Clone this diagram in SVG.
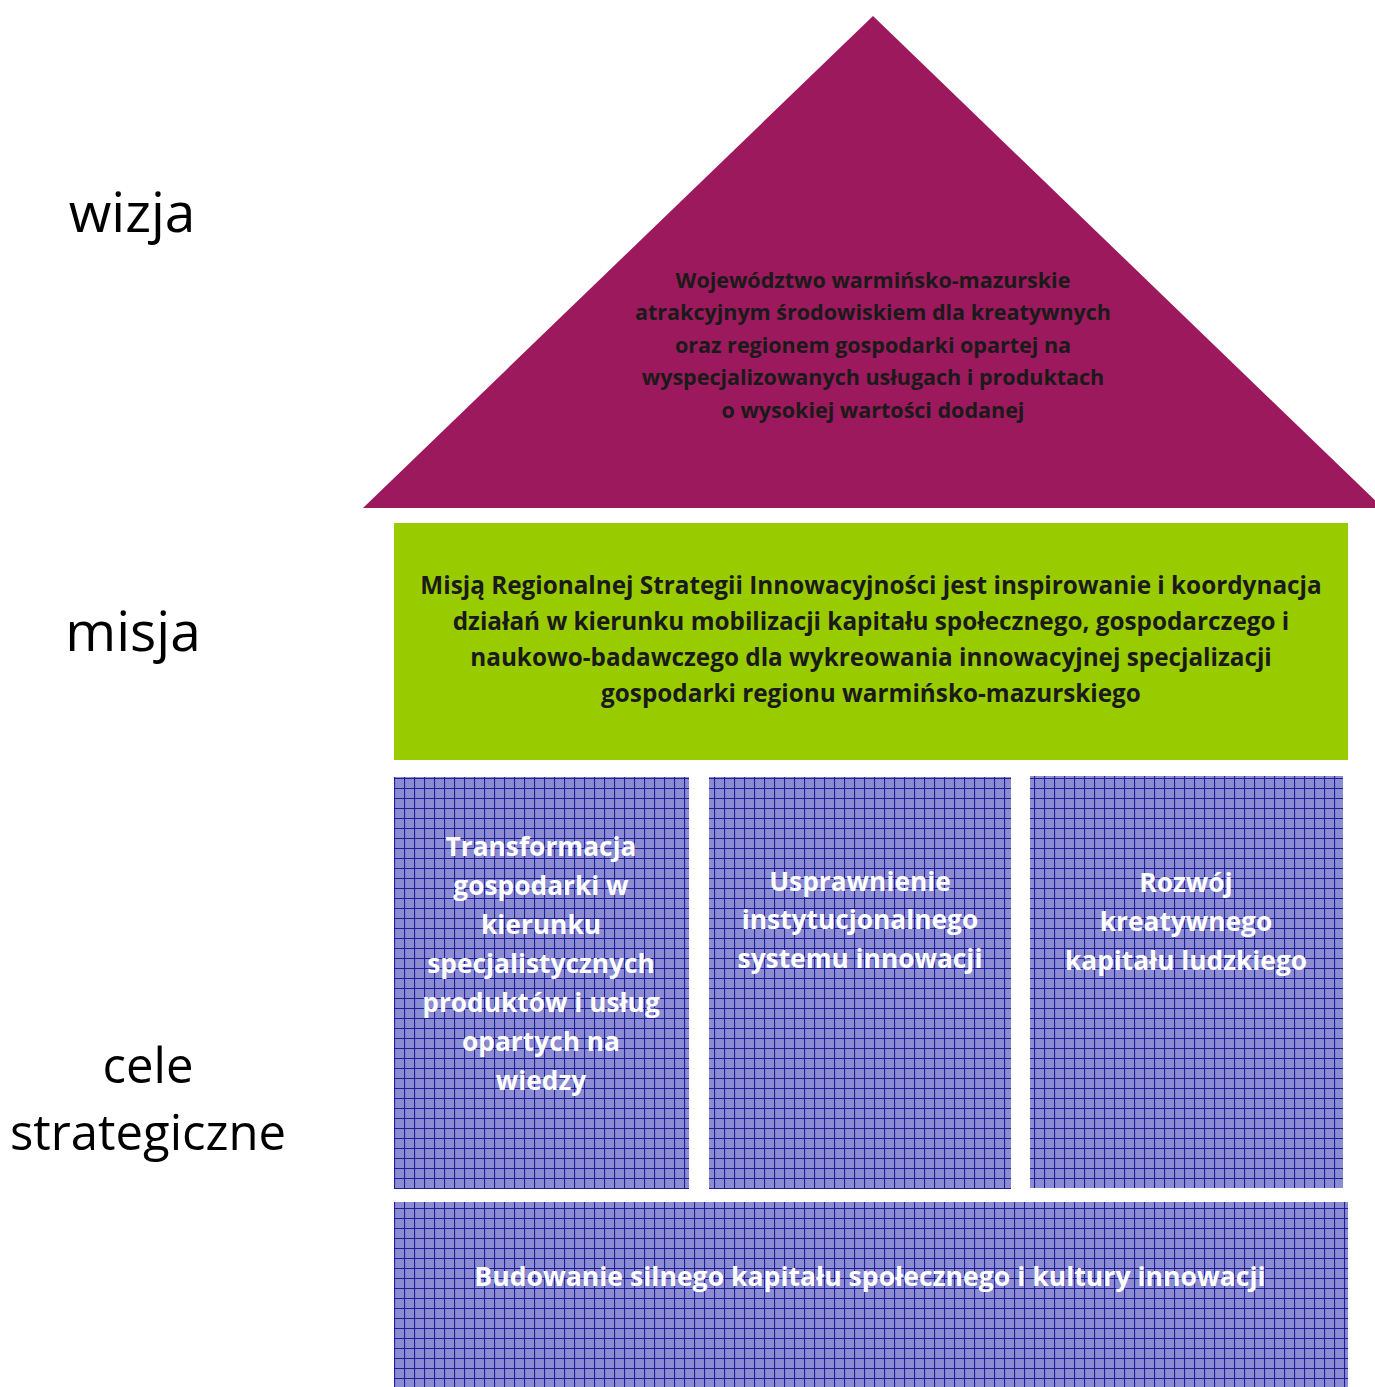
<svg xmlns="http://www.w3.org/2000/svg" width="1375" height="1387" viewBox="0 0 1375 1387">
<style>
.side{font-family:"Open Sans","Liberation Sans",sans-serif;font-size:49px;fill:#000;text-anchor:middle}
.big{font-size:55px}
.roof{font-family:"Open Sans","Liberation Sans",sans-serif;font-weight:bold;font-size:21.5px;fill:#1a1a1a;text-anchor:middle}
.mis{font-family:"Open Sans","Liberation Sans",sans-serif;font-weight:bold;font-size:24.3px;fill:#1a1a1a;text-anchor:middle}
.goal{font-family:"Open Sans","Liberation Sans",sans-serif;font-weight:bold;font-size:26.3px;fill:#fff;text-anchor:middle}
.wide{font-size:26.6px}
.box{fill:url(#grid)}
</style>
<defs>
<pattern id="grid" patternUnits="userSpaceOnUse" x="394" y="778" width="10" height="10">
<rect width="10" height="10" fill="#8C8CD2"/>
<path d="M0 0.5H10M0.5 0V10" stroke="#1E1E9A" stroke-width="1.2" fill="none"/>
</pattern>
</defs>
<g id="labels">
<text class="side big" x="132" y="232">wizja</text>
<text class="side big" x="133" y="651">misja</text>
<text class="side" x="148" y="1083">cele</text>
<text class="side" x="148" y="1150">strategiczne</text>
</g>
<g id="wizja">
<polygon points="873,16 363,508 1383,508" fill="#9B195C"/>
<text class="roof" x="873" y="288">Województwo warmińsko-mazurskie</text>
<text class="roof" x="873" y="320">atrakcyjnym środowiskiem dla kreatywnych</text>
<text class="roof" x="873" y="353">oraz regionem gospodarki opartej na</text>
<text class="roof" x="873" y="385">wyspecjalizowanych usługach i produktach</text>
<text class="roof" x="873" y="418">o wysokiej wartości dodanej</text>
</g>
<g id="misja">
<rect x="394" y="523" width="954" height="237" fill="#99CC00"/>
<text class="mis" x="871" y="594">Misją Regionalnej Strategii Innowacyjności jest inspirowanie i koordynacja</text>
<text class="mis" x="871" y="630">działań w kierunku mobilizacji kapitału społecznego, gospodarczego i</text>
<text class="mis" x="871" y="666">naukowo-badawczego dla wykreowania innowacyjnej specjalizacji</text>
<text class="mis" x="871" y="702">gospodarki regionu warmińsko-mazurskiego</text>
</g>
<g id="cel1">
<rect class="box" x="394" y="777" width="295" height="412"/>
<text class="goal" x="541" y="856">Transformacja</text>
<text class="goal" x="541" y="895">gospodarki w</text>
<text class="goal" x="541" y="934">kierunku</text>
<text class="goal" x="541" y="973">specjalistycznych</text>
<text class="goal" x="541" y="1012">produktów i usług</text>
<text class="goal" x="541" y="1051">opartych na</text>
<text class="goal" x="541" y="1090">wiedzy</text>
</g>
<g id="cel2">
<rect class="box" x="709" y="777" width="302" height="412"/>
<text class="goal" x="860" y="891">Usprawnienie</text>
<text class="goal" x="860" y="929">instytucjonalnego</text>
<text class="goal" x="860" y="968">systemu innowacji</text>
</g>
<g id="cel3">
<rect class="box" x="1030" y="776" width="313" height="412"/>
<text class="goal" x="1186" y="892">Rozwój</text>
<text class="goal" x="1186" y="931">kreatywnego</text>
<text class="goal" x="1186" y="970">kapitału ludzkiego</text>
</g>
<g id="cel4">
<rect class="box" x="394" y="1202" width="954" height="185"/>
<text class="goal wide" x="870" y="1286">Budowanie silnego kapitału społecznego i kultury innowacji</text>
</g>
<g id="connectors"></g>
</svg>
